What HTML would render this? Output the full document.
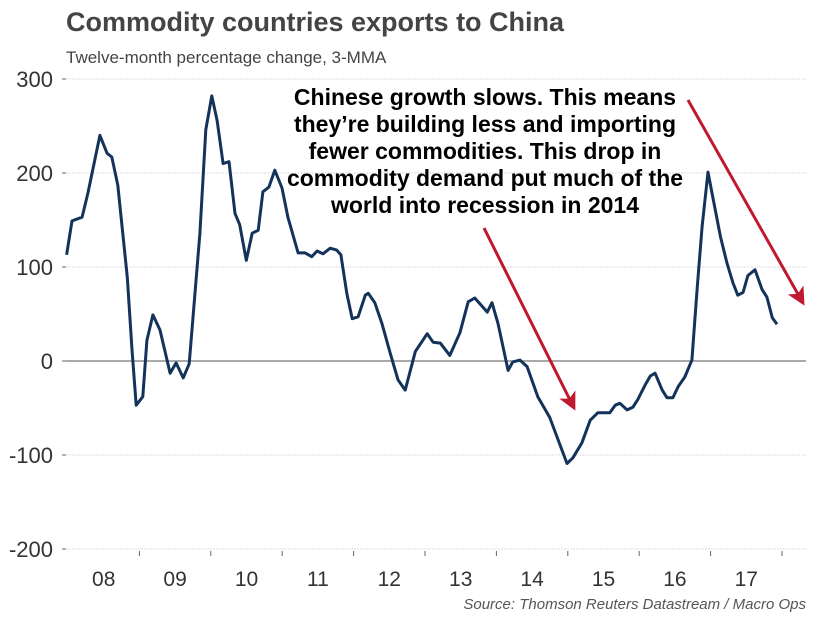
<!DOCTYPE html>
<html><head><meta charset="utf-8"><style>
body{margin:0;background:#fff;width:818px;height:615px;overflow:hidden;font-family:"Liberation Sans",Arial,sans-serif}
</style></head><body>
<svg width="818" height="615" id="c">
<text x="66" y="31" font-size="27" font-weight="bold" fill="#444">Commodity countries exports to China</text>
<text x="66" y="63" font-size="17" fill="#444">Twelve-month percentage change, 3-MMA</text>
<g id="grid"></g><g id="yax"></g><g id="xax"></g>
<path id="line" fill="none" stroke="#13335a" stroke-width="3" stroke-linejoin="round"/>
<g font-size="23" font-weight="bold" fill="#000" text-anchor="middle">
<text x="485" y="105">Chinese growth slows. This means</text>
<text x="485" y="132">they’re building less and importing</text>
<text x="485" y="159">fewer commodities. This drop in</text>
<text x="485" y="186">commodity demand put much of the</text>
<text x="485" y="213">world into recession in 2014</text>
</g>
<defs><marker id="ah" markerWidth="6" markerHeight="6" refX="5" refY="3" orient="auto" markerUnits="strokeWidth"><path d="M0,0 L6,3 L0,6 L1.5,3 z" fill="#c0182e"/></marker></defs>
<line x1="484" y1="228" x2="574" y2="408" stroke="#c0182e" stroke-width="3" marker-end="url(#ah)"/>
<line x1="688" y1="100" x2="803" y2="303" stroke="#c0182e" stroke-width="3" marker-end="url(#ah)"/>
<text x="806" y="609" font-size="15" font-style="italic" fill="#555" text-anchor="end">Source: Thomson Reuters Datastream / Macro Ops</text>
</svg>
<script>
const months=[0.1,1.0,2.7,3.7,5.7,6.9,7.7,8.7,10.3,11.1,11.8,12.9,13.6,14.6,15.8,17.5,18.5,19.7,20.7,22.5,23.5,24.5,25.4,26.4,27.4,28.4,29.2,30.3,31.3,32.3,33.1,34.1,35.1,36.3,37.3,39.0,40.2,41.3,42.2,43.2,44.4,45.5,46.2,47.2,48.1,49.1,50.3,50.8,51.9,53.1,54.5,55.8,57.0,58.7,60.7,61.7,62.9,64.5,66.2,67.6,68.7,70.8,71.6,72.6,74.3,75.1,76.3,77.5,79.3,81.3,84.2,85.2,86.7,88.1,89.4,91.4,92.3,93.1,94.3,95.3,96.1,97.3,98.2,99.0,100.2,101.0,102.0,102.9,104.0,105.2,106.1,106.9,107.9,108.8,110.0,111.1,112.1,112.9,113.8,114.6,115.8,117.0,117.8,118.7,119.5];
const values=[113,149,153,179,240,221,217,187,89,12,-47,-38,22,49,33,-13,-2,-18,-3,136,246,282,256,210,212,157,145,107,136,139,180,185,203,184,153,115,115,111,117,114,120,118,113,72,45,47,70,72,62,40,8,-20,-31,10,29,20,19,6,30,63,67,52,62,40,-10,-1,1,-6,-38,-60,-109,-103,-87,-63,-55,-55,-47,-45,-52,-49,-41,-26,-16,-13,-31,-39,-39,-27,-17,1,79,143,201,171,132,104,83,70,73,91,97,76,68,46,39];
const yTicks=[300,200,100,0,-100,-200];
const yearLabels=["08","09","10","11","12","13","14","15","16","17"];
const NS="http://www.w3.org/2000/svg";
const X=m=>66+m*5.95, Y=v=>361-v*0.94;
function mk(t,a,p){const e=document.createElementNS(NS,t);for(const k in a)e.setAttribute(k,a[k]);p.appendChild(e);return e;}
const g=document.getElementById('grid'),ya=document.getElementById('yax'),xa=document.getElementById('xax');
yTicks.forEach(v=>{
 const l=mk('line',{x1:66,x2:806,y1:Y(v),y2:Y(v),stroke:v===0?'#777':'#ddd','stroke-width':v===0?1.2:1,'stroke-dasharray':v===0?'':'2,1'},g);
 
 
 const tk=mk('line',{x1:62,x2:66,y1:Y(v),y2:Y(v),stroke:'#666'},ya);
 
 
 const t=mk('text',{x:53,y:Y(v)+8,'font-size':22,fill:'#333','text-anchor':'end'},ya);
 t.textContent=v;
 
 
});
yearLabels.forEach((lab,k)=>{
 const tk=mk('line',{x1:X(12*(k+1))+2,x2:X(12*(k+1))+2,y1:Y(-200)+2,y2:Y(-200)+7,stroke:'#666'},xa);
 
 
 const t=mk('text',{x:X(12*k+6)+2,y:586,'font-size':21,fill:'#333','text-anchor':'middle'},xa);
 t.textContent=lab;
 
 
});
document.getElementById('line').setAttribute('d',months.map((m,i)=>(i?'L':'M')+X(m).toFixed(1)+','+Y(values[i]).toFixed(1)).join(''));
</script>
</body></html>
